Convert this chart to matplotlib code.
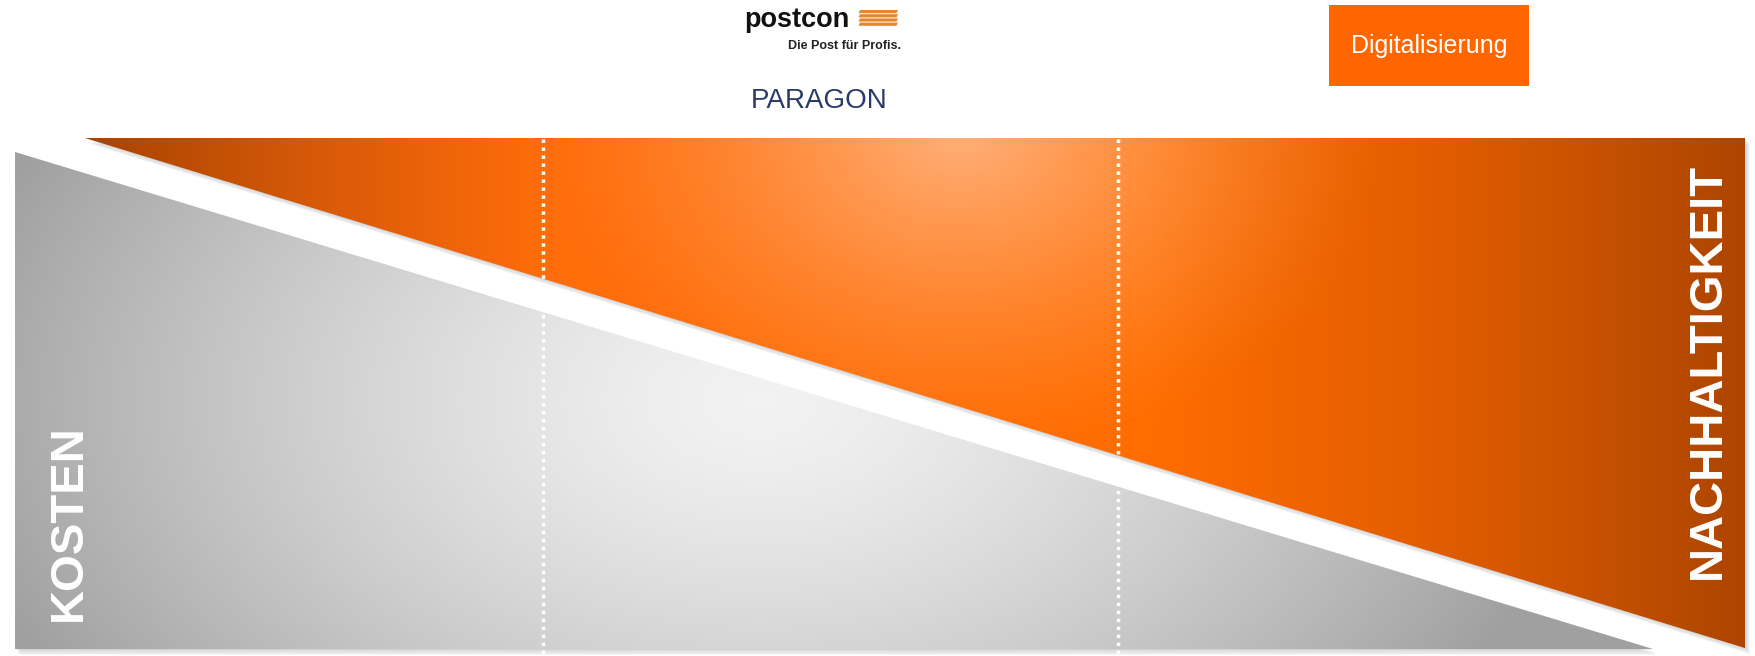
import matplotlib.pyplot as plt
import numpy as np
from matplotlib.patches import Polygon, Rectangle

W, H = 1756, 656

# diagram content
cost_label = "KOSTEN"
sustain_label = "NACHHALTIGKEIT"
tag_label = "Digitalisierung"
logo_top = "postcon"
logo_sub = "Die Post für Profis."
logo_bottom = "PARAGON"

gray_tri = [(15, 152), (15, 649), (1653, 649)]
orange_tri = [(85, 138), (1745, 138), (1745, 648)]
divider_x = [543, 1118]


def hex2rgb(h):
    h = h.lstrip("#")
    return np.array([int(h[i:i + 2], 16) for i in (0, 2, 4)]) / 255


def orange_image(xx, yy):
    stops_x = [85, 300, 540, 1150, 1450, 1745]
    cols = [hex2rgb(c) for c in ["#a84300", "#d45808", "#ff6c0a", "#ff6d00", "#e05c00", "#ad4500"]]
    img = np.zeros(xx.shape + (3,))
    for k in range(3):
        img[..., k] = np.interp(xx, stops_x, [c[k] for c in cols])
    # light spot near the top middle
    d = np.sqrt(((xx - 960) / 430) ** 2 + ((yy - 130) / 330) ** 2)
    w = np.clip(1 - d, 0, 1) ** 1.3
    light = hex2rgb("#ffb07a")
    return img * (1 - w[..., None]) + light * w[..., None]


def gray_image(xx, yy):
    d = np.sqrt(((xx - 760) / 820) ** 2 + ((yy - 400) / 520) ** 2)
    v = 0.95 - 0.32 * np.clip(d, 0, 1) ** 1.4
    return np.dstack([v, v, v])


def shadow(ax, pts, dx=5, dy=6):
    for i in range(6):
        off = [(x + dx * i / 5, y + dy * i / 5) for x, y in pts]
        ax.add_patch(Polygon(off, closed=True, color="black", alpha=0.035, lw=0, zorder=1))


fig = plt.figure(figsize=(W / 100, H / 100), dpi=100)
ax = fig.add_axes([0, 0, 1, 1])
ax.set_xlim(0, W)
ax.set_ylim(H, 0)
ax.axis("off")

xx, yy = np.meshgrid(np.arange(W) + 0.5, np.arange(H) + 0.5)

shadow(ax, gray_tri)
shadow(ax, orange_tri)

for pts, func in [(gray_tri, gray_image), (orange_tri, orange_image)]:
    poly = Polygon(pts, closed=True, facecolor="none", edgecolor="none")
    ax.add_patch(poly)
    im = ax.imshow(func(xx, yy), extent=[0, W, H, 0], zorder=2, interpolation="bilinear")
    im.set_clip_path(poly)

for x in divider_x:
    ax.plot([x, x], [139, H], color="white", lw=2.5, ls=(0, (1, 1.3)), zorder=3)

ax.text(69, 523, cost_label, rotation=90, ha="center", va="center", color="white",
        fontsize=34, fontweight="bold", family="Liberation Sans", zorder=4)
ax.text(1708, 371, sustain_label, rotation=90, ha="center", va="center", color="white",
        fontsize=34, fontweight="bold", family="Liberation Sans", zorder=4)

# tag box
ax.add_patch(Rectangle((1329, 5), 200, 81, color="#ff6600", lw=0, zorder=2))
ax.text(1429, 46, tag_label, ha="center", va="center", color="white",
        fontsize=18, family="Liberation Sans", zorder=3)

# logos
ax.text(797, 20, logo_top, ha="center", va="center", color="#111111",
        fontsize=19.5, fontweight="bold", family="Liberation Sans")
for i in range(4):
    y0 = 10 + i * 4.2
    ax.add_patch(Polygon([(860, y0), (898, y0), (896.5, y0 + 3.2), (858.5, y0 + 3.2)],
                         closed=True, color="#e5852c", lw=0))
ax.text(845, 46, logo_sub, ha="center", va="center", color="#222222",
        fontsize=9, fontweight="bold", family="Liberation Sans")
ax.text(819, 101, logo_bottom, ha="center", va="center", color="#2b3a67",
        fontsize=20, family="Liberation Sans")

fig.savefig("out.png", dpi=100)
